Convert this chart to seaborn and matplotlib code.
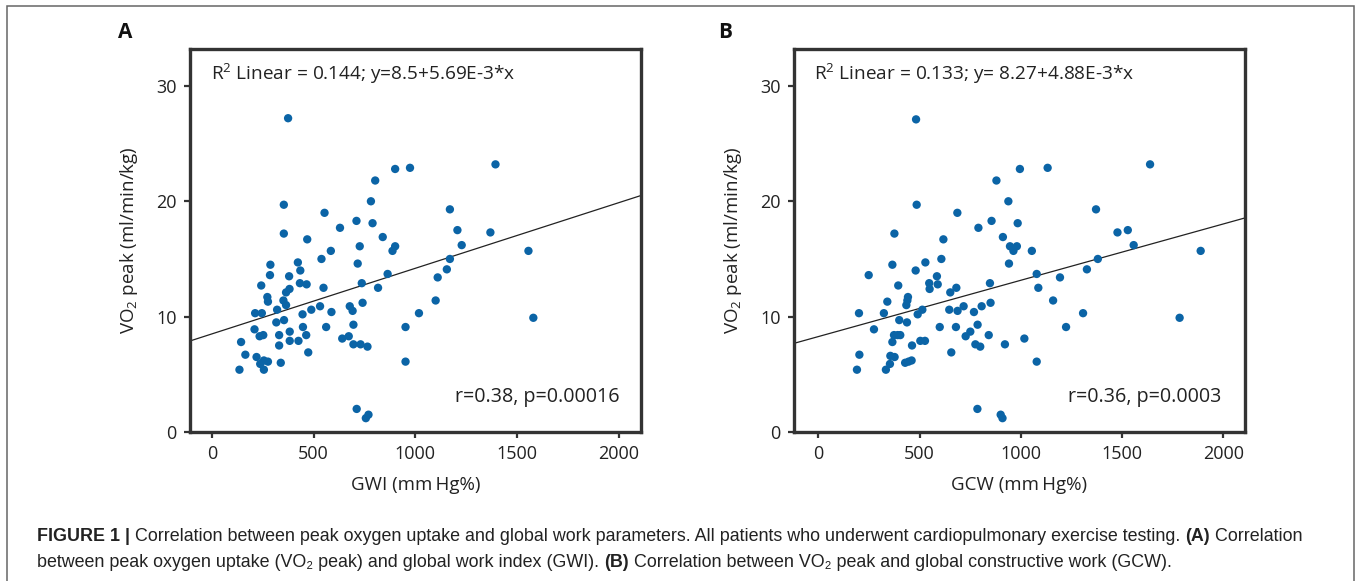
import numpy as np
import pandas as pd
import seaborn as sns
import matplotlib
matplotlib.use("Agg")
import matplotlib.pyplot as plt
from matplotlib import font_manager as fm
from matplotlib.patches import Rectangle

# ---------------- data ----------------
gwi = [375, 901, 974, 803, 354, 782, 554, 711, 790, 630,
       354, 469, 840, 727, 901, 888, 585, 539, 423, 288,
       717, 435, 286, 380, 864, 433, 466, 243, 382, 365,
       737, 817, 549, 273, 276, 352, 365, 741, 321, 532,
       489, 678, 692, 213, 246, 446, 588, 355, 317, 696,
       562, 448, 952, 210, 383, 331, 464, 253, 235, 641,
       673, 144, 383, 426, 331, 696, 731, 765, 165, 474,
       220, 256, 276, 238, 339, 952, 136, 256, 712, 770,
       757, 1018, 1100, 1110, 1394, 1170, 1207, 1369, 1228, 1556,
       1170, 1155, 1580]
vo2_a = [27.2, 22.8, 22.9, 21.8, 19.7, 20.0, 19.0, 18.3, 18.1, 17.7,
         17.2, 16.7, 16.9, 16.1, 16.1, 15.7, 15.7, 15.0, 14.7, 14.5,
         14.6, 14.0, 13.6, 13.5, 13.7, 12.9, 12.8, 12.7, 12.4, 12.1,
         12.9, 12.5, 12.5, 11.7, 11.3, 11.4, 11.0, 11.2, 10.6, 10.9,
         10.6, 10.9, 10.5, 10.3, 10.3, 10.2, 10.4, 9.7, 9.5, 9.3,
         9.1, 9.1, 9.1, 8.9, 8.7, 8.4, 8.4, 8.4, 8.3, 8.1,
         8.3, 7.8, 7.9, 7.9, 7.5, 7.6, 7.6, 7.4, 6.7, 6.9,
         6.5, 6.2, 6.1, 5.9, 6.0, 6.1, 5.4, 5.4, 2.0, 1.5,
         1.2, 10.3, 11.4, 13.4, 23.2, 19.3, 17.5, 17.3, 16.2, 15.7,
         15.0, 14.1, 9.9]

gcw = [483, 996, 880, 939, 486, 687, 856, 985, 791, 376,
       912, 618, 947, 981, 964, 1055, 608, 529, 942, 366,
       481, 249, 586, 1079, 548, 590, 395, 848, 550, 682,
       1087, 652, 341, 443, 440, 435, 851, 807, 718, 647,
       688, 514, 491, 201, 324, 769, 400, 438, 787, 600,
       680, 275, 751, 374, 392, 405, 842, 728, 1018, 366,
       504, 527, 463, 776, 800, 922, 203, 657, 356, 377,
       354, 429, 446, 461, 191, 334, 1079, 786, 901, 910,
       1133, 1639, 1372, 1478, 1529, 1558, 1889, 1381, 1327, 1194,
       1160, 1308, 1224, 1785]
vo2_b = [27.1, 22.8, 21.8, 20.0, 19.7, 19.0, 18.3, 18.1, 17.7, 17.2,
         16.9, 16.7, 16.1, 16.1, 15.7, 15.7, 15.0, 14.7, 14.6, 14.5,
         14.0, 13.6, 13.5, 13.7, 12.9, 12.8, 12.7, 12.9, 12.4, 12.5,
         12.5, 12.1, 11.3, 11.7, 11.4, 11.0, 11.2, 10.9, 10.9, 10.6,
         10.5, 10.6, 10.2, 10.3, 10.3, 10.4, 9.7, 9.5, 9.3, 9.1,
         9.1, 8.9, 8.7, 8.4, 8.4, 8.4, 8.4, 8.3, 8.1, 7.8,
         7.9, 7.9, 7.5, 7.6, 7.4, 7.6, 6.7, 6.9, 6.6, 6.5,
         5.9, 6.0, 6.1, 6.2, 5.4, 5.4, 6.1, 2.0, 1.5, 1.2,
         22.9, 23.2, 19.3, 17.3, 17.5, 16.2, 15.7, 15.0, 14.1, 13.4,
         11.4, 10.3, 9.1, 9.9]

fit_intercepts = [8.5, 8.27]
fit_slopes = [5.69e-3, 4.88e-3]
x_labels = ["GWI (mm\u2009Hg%)", "GCW (mm\u2009Hg%)"]
panel_letters = ["A", "B"]
fit_texts = ["R$^2$ Linear = 0.144; y=8.5+5.69E-3*x",
             "R$^2$ Linear = 0.133; y= 8.27+4.88E-3*x"]
corr_texts = ["r=0.38, p=0.00016", "r=0.36, p=0.0003"]
x_ticks = [0, 500, 1000, 1500, 2000]
y_ticks = [0, 10, 20, 30]

# ---------------- style ----------------
sns.set_theme(style="ticks")
names = {f.name for f in fm.fontManager.ttflist}
main_font = "Open Sans" if "Open Sans" in names else "DejaVu Sans"
cap_font = "Liberation Sans Narrow" if "Liberation Sans Narrow" in names else "Liberation Sans"
plt.rcParams["font.family"] = [main_font, "DejaVu Sans"]
plt.rcParams["mathtext.fontset"] = "custom"
plt.rcParams["mathtext.rm"] = main_font
plt.rcParams["mathtext.it"] = main_font + ":italic"
plt.rcParams["mathtext.bf"] = main_font + ":bold"

W, H = 1357, 581
fig = plt.figure(figsize=(W / 100, H / 100), dpi=100)
fig.patch.set_facecolor("white")

SPINE = "#333333"
BLUE = "#0b64a6"

axes_left = [190, 794]
ax_w, ax_top, ax_bot = 451, 49, 432
xlims = [(-107, 2109), (-120, 2108)]

dfA = pd.DataFrame({"x": gwi, "y": vo2_a})
dfB = pd.DataFrame({"x": gcw, "y": vo2_b})
frames = [dfA, dfB]
fit_text_x = [0.046, 0.044]
corr_text_x = [0.953, 0.948]
letter_x = [125, 725]

for i in range(2):
    ax = fig.add_axes([axes_left[i] / W, 1 - ax_bot / H, ax_w / W, (ax_bot - ax_top) / H])
    sns.scatterplot(data=frames[i], x="x", y="y", ax=ax, color=BLUE, s=36,
                    edgecolor="none", linewidth=0, zorder=3)
    ax.axline((0, fit_intercepts[i]), slope=fit_slopes[i], color="#222222", lw=0.9, zorder=2)
    ax.set_xlim(*xlims[i])
    ax.set_ylim(0, 33.2)
    ax.set_xticks(x_ticks)
    ax.set_yticks(y_ticks)
    for sp in ax.spines.values():
        sp.set_color(SPINE)
        sp.set_linewidth(2.4)
    ax.tick_params(axis="both", direction="out", length=4.5, width=1.6, color=SPINE,
                   labelsize=13, labelcolor="#222222", pad=5)
    ax.set_xlabel(x_labels[i], fontsize=13.5, color="#222222", labelpad=9)
    ax.set_ylabel("VO$_2$ peak (ml/min/kg)", fontsize=13.5, color="#222222", labelpad=12)
    ax.text(fit_text_x[i], 0.919, fit_texts[i], transform=ax.transAxes, fontsize=13.7,
            color="#222222", ha="left", va="baseline")
    ax.text(corr_text_x[i], 0.0775, corr_texts[i], transform=ax.transAxes, fontsize=14.2,
            color="#222222", ha="right", va="baseline")
    fig.text(letter_x[i] / W, 1 - 33 / H, panel_letters[i], fontsize=15, fontweight="bold",
             ha="center", va="center", color="#111111")

# outer frame
fig.add_artist(Rectangle((7 / W, -0.05), (1354 - 7) / W, 1 - 6 / H + 0.05,
                         transform=fig.transFigure, fill=False, edgecolor="#666666", lw=1.1))

# ---------------- caption ----------------
line1 = [("FIGURE 1 |", "bold"),
         (" Correlation between peak oxygen uptake and global work parameters. All patients who underwent cardiopulmonary exercise testing. ", "normal"),
         ("(A)", "bold"), (" Correlation", "normal")]
line2 = [("between peak oxygen uptake (VO\u2082 peak) and global work index (GWI). ", "normal"),
         ("(B)", "bold"),
         (" Correlation between VO\u2082 peak and global constructive work (GCW).", "normal")]

renderer = fig.canvas.get_renderer()
cap_family = [cap_font, "DejaVu Sans"]


def draw_line(segs, x0, yb, size, draw=True):
    x = x0
    arts = []
    for s, w in segs:
        t = fig.text(x / W, 1 - yb / H, s, fontsize=size, fontweight=w, family=cap_family,
                     color="#222222", ha="left", va="baseline")
        bb = t.get_window_extent(renderer)
        x += bb.width
        arts.append(t)
    if not draw:
        for a in arts:
            a.remove()
    return x - x0


ref = draw_line(line1, 37, 540, 12, draw=False)
cap_size = 12 * (1265 / ref)
draw_line(line1, 37, 541, cap_size)
draw_line(line2, 37, 567, cap_size)

fig.savefig("out.png", dpi=100, facecolor="white")
